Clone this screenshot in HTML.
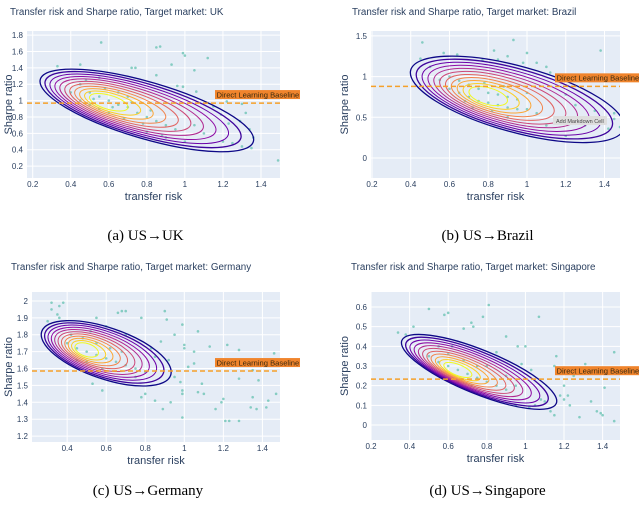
<!DOCTYPE html>
<html><head><meta charset="utf-8">
<style>
body{margin:0;background:#fff;}
svg{display:block;font-family:"Liberation Sans",sans-serif;}
.cap{font-family:"Liberation Serif",serif;font-size:15px;fill:#000;}
</style></head>
<body>
<svg id="fig" width="640" height="507" viewBox="0 0 640 507"></svg>
<script>
const xTicks = [0.2,0.4,0.6,0.8,1,1.2,1.4];
const yTicksA = [0.2,0.4,0.6,0.8,1,1.2,1.4,1.6,1.8];
const yTicksB = [0,0.5,1,1.5];
const yTicksC = [1.2,1.3,1.4,1.5,1.6,1.7,1.8,1.9,2];
const yTicksD = [0,0.1,0.2,0.3,0.4,0.5,0.6];
const markets = ["UK","Brazil","Germany","Singapore"];
const captions = ["(a) US→UK","(b) US→Brazil","(c) US→Germany","(d) US→Singapore"];
const baselines = [0.97,0.88,1.585,0.233];
const contourOuterA=[0.8,0.88], contourCoreA=[0.6,0.98], contourMajorA=[0.56,-0.38], contourMinorA=0.36;
const contourOuterB=[0.95,0.72], contourCoreB=[0.8,0.76], contourMajorB=[0.55,-0.36], contourMinorB=0.42;
const contourOuterC=[0.6,1.69], contourCoreC=[0.5,1.71], contourMajorC=[0.33,-0.13], contourMinorC=0.16;
const contourOuterD=[0.76,0.27], contourCoreD=[0.65,0.28], contourMajorD=[0.4,-0.16], contourMinorD=0.12;
const pointsXA=[0.56,0.85,0.87,0.99,1.0,1.12,0.33,0.45,0.93,1.05,0.72,0.74,0.85,0.96,0.99,1.06,1.25,1.15,1.22,1.3,1.32,1.19,1.23,1.29,1.34,1.36,1.3,1.35,1.49,1.2,1.25,1.1,1.05,1.0,0.9,0.95,0.88,0.8,0.45,0.5,0.55,0.6,0.65,0.7,0.75,0.8,0.5,0.55,0.6,0.65,0.7,0.45,0.58,0.68,0.78,0.85,0.9,0.62,0.52,0.72,0.82,0.4,0.48,0.55];
const pointsYA=[1.71,1.65,1.66,1.58,1.55,1.52,1.42,1.44,1.44,1.37,1.4,1.4,1.31,1.18,1.17,1.11,1.1,0.93,0.99,0.96,0.85,0.83,0.72,0.75,0.65,0.55,0.44,0.42,0.27,0.5,0.48,0.6,0.7,0.5,0.55,0.65,0.58,0.62,1.2,1.1,1.05,1.0,0.95,0.92,0.85,0.8,0.95,0.9,0.85,1.1,1.05,1.0,1.15,0.78,0.72,0.75,0.7,0.92,1.02,0.98,0.88,1.1,1.25,1.28];
const pointsXB=[0.46,0.45,0.57,0.64,0.83,0.93,0.9,1.0,1.05,1.1,1.38,0.77,0.85,0.5,0.98,1.12,1.17,1.2,1.25,1.35,1.4,1.45,1.48,1.3,1.35,1.42,1.2,1.1,1.15,1.25,1.45,0.55,0.6,0.65,0.7,0.75,0.8,0.85,0.9,0.95,0.7,0.75,0.8,0.85,0.9,0.95,1.0,1.05,0.65,0.72,0.82,0.9,0.6,0.78,0.88,1.0,0.68];
const pointsYB=[1.42,1.22,1.29,1.27,1.32,1.45,1.25,1.29,1.17,1.12,1.32,1.2,1.21,1.12,1.17,1.05,0.95,0.78,0.65,0.58,0.5,0.48,0.38,0.4,0.43,0.36,0.27,0.4,0.45,0.42,0.55,0.96,1.0,0.8,0.75,0.7,0.68,0.65,0.62,0.6,0.9,0.85,0.8,0.78,0.75,0.72,0.6,0.55,0.95,0.62,0.58,0.5,0.85,0.92,0.88,0.8,0.7];
const pointsXC=[0.32,0.36,0.38,0.32,0.35,0.3,0.36,0.68,0.7,0.66,0.9,0.91,0.78,0.55,0.99,1.07,0.95,0.88,0.83,0.85,0.92,1.0,1.0,1.05,1.13,1.22,1.28,1.46,1.05,1.02,0.95,0.98,1.09,1.28,1.38,1.35,0.99,0.99,1.07,1.1,1.16,1.19,1.2,1.35,1.34,1.37,1.42,1.43,1.47,1.21,1.23,1.28,1.5,0.99,0.89,0.93,0.85,0.78,0.8,0.58,0.75,0.53,0.4,0.45,0.5,0.55,0.6,0.65,0.7,0.42,0.48,0.5,0.58,0.62,0.68,0.75,0.8,0.45,0.55,0.7,0.6,0.52];
const pointsYC=[1.99,1.97,1.99,1.95,1.92,1.88,1.9,1.94,1.94,1.93,1.94,1.89,1.9,1.9,1.86,1.82,1.8,1.76,1.72,1.67,1.65,1.74,1.72,1.7,1.73,1.74,1.71,1.69,1.63,1.61,1.55,1.52,1.51,1.54,1.53,1.59,1.47,1.45,1.46,1.45,1.36,1.4,1.42,1.43,1.37,1.36,1.37,1.41,1.45,1.29,1.29,1.29,1.31,1.31,1.36,1.4,1.41,1.43,1.45,1.47,1.55,1.51,1.75,1.72,1.7,1.68,1.66,1.64,1.62,1.8,1.78,1.64,1.6,1.72,1.7,1.6,1.58,1.65,1.75,1.8,1.85,1.82];
const pointsXD=[0.34,0.38,0.42,0.5,0.58,0.6,0.81,0.78,1.07,0.72,0.68,0.73,0.9,0.96,1.0,0.85,0.98,1.03,1.16,1.15,1.2,1.18,1.2,1.22,1.23,1.28,1.31,1.34,1.37,1.39,1.4,1.41,1.46,1.46,1.5,1.15,1.13,1.1,1.02,1.05,0.95,1.08,1.25,0.5,0.55,0.6,0.65,0.7,0.75,0.8,0.85,0.9,0.6,0.68,0.75,0.58,0.65,0.72,0.9,0.95,0.55,0.62,0.8];
const pointsYD=[0.47,0.46,0.5,0.59,0.56,0.57,0.61,0.55,0.55,0.52,0.49,0.5,0.45,0.4,0.4,0.37,0.31,0.28,0.35,0.3,0.2,0.15,0.13,0.15,0.1,0.04,0.31,0.12,0.07,0.06,0.05,0.19,0.37,0.02,0.1,0.05,0.07,0.12,0.09,0.1,0.1,0.13,0.25,0.35,0.32,0.3,0.28,0.26,0.24,0.22,0.2,0.18,0.36,0.33,0.3,0.24,0.22,0.2,0.25,0.2,0.4,0.4,0.3];
const contourColors=["#0d0887","#3e049c","#6a00a8","#8f0da4","#b12a90","#cc4778","#e16462","#f2844b","#fca636","#fcce25","#f0f921"];

const panels=[
 {ox:0,oy:0,l:27,r:280,t:31,b:178,x0:0.17,x1:1.5,y0:0.055,y1:1.85,yt:yTicksA,px:pointsXA,py:pointsYA,co:contourOuterA,cc:contourCoreA,cm:contourMajorA,cn:contourMinorA,tx:10,ytx:8,lx:215},
 {ox:320,oy:0,l:371,r:620,t:31,b:178,x0:0.195,x1:1.48,y0:-0.246,y1:1.56,yt:yTicksB,px:pointsXB,py:pointsYB,co:contourOuterB,cc:contourCoreB,cm:contourMajorB,cn:contourMinorB,tx:352,ytx:344,lx:555},
 {ox:0,oy:255,l:32,r:280,t:292,b:442,x0:0.22,x1:1.49,y0:1.165,y1:2.053,yt:yTicksC,px:pointsXC,py:pointsYC,co:contourOuterC,cc:contourCoreC,cm:contourMajorC,cn:contourMinorC,tx:11,ytx:8,lx:215},
 {ox:320,oy:255,l:371,r:620,t:292,b:440,x0:0.2,x1:1.49,y0:-0.076,y1:0.676,yt:yTicksD,px:pointsXD,py:pointsYD,co:contourOuterD,cc:contourCoreD,cm:contourMajorD,cn:contourMinorD,tx:351,ytx:344,lx:555}
];
const NS="http://www.w3.org/2000/svg";
const svg=document.getElementById('fig');
function mk(tag,attrs,parent,text){const e=document.createElementNS(NS,tag);for(const k in attrs)e.setAttribute(k,attrs[k]);if(text!==undefined)e.textContent=text;(parent||svg).appendChild(e);return e;}
function fmt(v){return String(Math.round(v*10)/10);}
panels.forEach((p,i)=>{
 const sx=v=>p.l+(v-p.x0)/(p.x1-p.x0)*(p.r-p.l);
 const sy=v=>p.b-(v-p.y0)/(p.y1-p.y0)*(p.b-p.t);
 const kx=(p.r-p.l)/(p.x1-p.x0), ky=(p.b-p.t)/(p.y1-p.y0);
 const g=mk('g',{});
 
 
 const title=mk('text',{x:p.tx,y:p.oy+15,'font-size':9.8,fill:'#2a3f5f'},g,'Transfer risk and Sharpe ratio, Target market: '+markets[i]);
 
 
 const bg=mk('rect',{x:p.l,y:p.t,width:p.r-p.l,height:p.b-p.t,fill:'#e5ecf6'},g);
 
 
 const clipId='clip'+i;
 const cp=mk('clipPath',{id:clipId},g);mk('rect',{x:p.l,y:p.t,width:p.r-p.l,height:p.b-p.t},cp);
 xTicks.forEach(v=>{const x=sx(v);if(x<p.l-1||x>p.r+1)return;
  mk('line',{x1:x,x2:x,y1:p.t,y2:p.b,stroke:'#fff','stroke-width':1},g);
  const tl=mk('text',{x:x,y:p.b+9,'font-size':8,fill:'#2a3f5f','text-anchor':'middle'},g,fmt(v));
  
  });
 p.yt.forEach(v=>{const y=sy(v);
  mk('line',{x1:p.l,x2:p.r,y1:y,y2:y,stroke:'#fff','stroke-width':1},g);
  const tl=mk('text',{x:p.l-4,y:y+3,'font-size':8,fill:'#2a3f5f','text-anchor':'end'},g,fmt(v));
  
  });
 const xt=mk('text',{x:(p.l+p.r)/2,y:p.b+22,'font-size':11,fill:'#2a3f5f','text-anchor':'middle'},g,'transfer risk');
 
 
 const ymid=(p.t+p.b)/2;
 const yt=mk('text',{x:p.ytx,y:ymid,'font-size':11,fill:'#2a3f5f','text-anchor':'middle',transform:`rotate(-90 ${p.ytx} ${ymid})`,dy:4},g,'Sharpe ratio');
 
 
 const inner=mk('g',{'clip-path':`url(#${clipId})`},g);
 for(let k=0;k<p.px.length;k++){
  const c=mk('circle',{cx:sx(p.px[k]),cy:sy(p.py[k]),r:1.3,fill:'#74c7b8',opacity:0.85},inner);
  
  
 }
 const n=contourColors.length;
 const mxp=p.cm[0]*kx, myp=-p.cm[1]*ky;
 const a=Math.sqrt(mxp*mxp+myp*myp), ang=Math.atan2(myp,mxp)*180/Math.PI;
 const bmin=Math.abs(p.cn*ky*Math.cos(Math.atan2(myp,mxp)));
 for(let k=0;k<n;k++){
  const t=k/(n-1), s=1-0.82*t;
  const cx=sx(p.co[0]+(p.cc[0]-p.co[0])*t), cy=sy(p.co[1]+(p.cc[1]-p.co[1])*t);
  const e=mk('ellipse',{cx:0,cy:0,rx:a*s,ry:bmin*(1-0.75*t),fill:'none',stroke:contourColors[k],'stroke-width':k<2?1.3:1,transform:`translate(${cx} ${cy}) rotate(${ang})`},inner);
  
  
 }
 const by=sy(baselines[i]);
 const bl=mk('line',{x1:p.l,x2:p.r,y1:by,y2:by,stroke:'#f5a02a','stroke-width':1.5,'stroke-dasharray':'5,3'},g);
 
 
 const lb=mk('g',{},g);
 
 
 mk('rect',{x:p.lx,y:by-13,width:(i%2?84:85),height:9,fill:'#f0842c'},lb);
 mk('text',{x:p.lx+1.5,y:by-5.6,'font-size':7.6,fill:'#3a2a10'},lb,'Direct Learning Baseline');
 const cap=mk('text',{x:(p.l+p.r)/2-8,y:p.oy+240,'text-anchor':'middle',class:'cap'},g,captions[i]);
 
 
});
const tip=mk('g',{});


mk('rect',{x:553,y:116,width:54,height:9,fill:'#dedede',rx:1},tip);
mk('text',{x:556,y:123,'font-size':5.5,fill:'#444'},tip,'Add Markdown Cell');
</script>
</body></html>
